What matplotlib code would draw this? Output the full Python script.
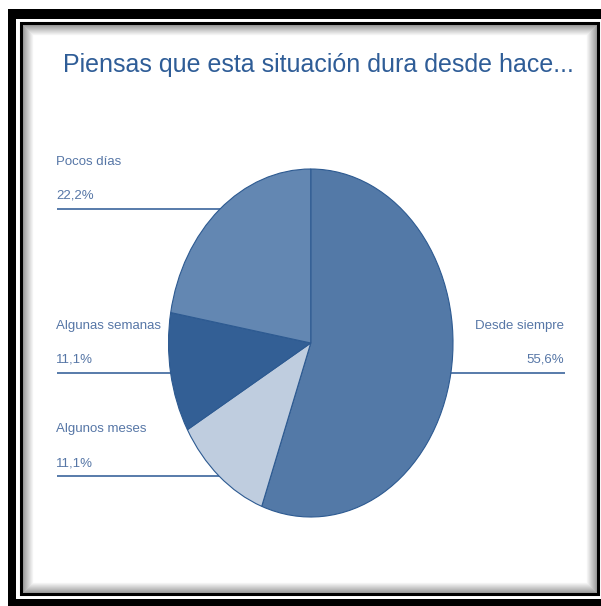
import numpy as np
import matplotlib
matplotlib.use('Agg')
from matplotlib import pyplot as plt
from matplotlib.patches import Rectangle

titulo = 'Piensas que esta situación dura desde hace...'
categorias = ['Desde siempre', 'Algunos meses', 'Algunas semanas', 'Pocos días']
porcentajes = [55.6, 11.1, 11.1, 22.2]
etiquetas = ['55,6%', '11,1%', '11,1%', '22,2%']
colores = ['#5379a7', '#bfcddf', '#335f95', '#6387b2']

fuente = ['Liberation Sans', 'DejaVu Sans']
azul_titulo = '#2f5d97'
azul_texto = '#5676a6'
azul_linea = '#4a71a4'

W, H = 601, 606
fig = plt.figure(figsize=(W / 100, H / 100), dpi=100)

# fondo en pixeles (origen arriba a la izquierda)
bg = fig.add_axes([0, 0, 1, 1], zorder=0)
bg.set_xlim(0, W)
bg.set_ylim(H, 0)
bg.axis('off')

bg.add_patch(Rectangle((8, 9), 700, 700, facecolor='black', edgecolor='none'))
bg.add_patch(Rectangle((16, 19), 700, 580, facecolor='white', edgecolor='none'))
x0, y0, x1, y1 = 20.5, 22.5, 597.5, 593.7
for k in range(12, 0, -1):
    g = 0.55 + 0.45 * k / 12
    bg.add_patch(Rectangle((x0 + k, y0 + k), x1 - x0 - 2 * k, y1 - y0 - 2 * k,
                           facecolor='white' if k == 12 else 'none',
                           edgecolor=(g, g, g), linewidth=0.9))
bg.add_patch(Rectangle((x0, y0), x1 - x0, y1 - y0, facecolor='none',
                       edgecolor='black', linewidth=2.2))

bg.text(318, 72, titulo, ha='center', va='baseline', fontsize=18,
        color=azul_titulo, family=fuente)

# pastel (elipse, como en la imagen original)
cx, cy, rx, ry = 310.75, 343, 142.25, 174
ax = fig.add_axes([(cx - rx) / W, (H - cy - ry) / H, 2 * rx / W, 2 * ry / H], zorder=1)
ax.pie(porcentajes, colors=colores, startangle=90, counterclock=False,
       wedgeprops=dict(edgecolor='#2d5a91', linewidth=0.8))
ax.set_aspect('auto')
ax.set_xlim(-1, 1)
ax.set_ylim(-1, 1)
ax.patch.set_visible(False)

# etiquetas con linea hasta el borde del pastel
pos_linea = {'Pocos días': 209, 'Algunas semanas': 373, 'Algunos meses': 476, 'Desde siempre': 373}
lado = {'Pocos días': 'izq', 'Algunas semanas': 'izq', 'Algunos meses': 'izq', 'Desde siempre': 'der'}

for cat, etq in zip(categorias, etiquetas):
    yl = pos_linea[cat]
    dx = rx * np.sqrt(1 - ((yl - cy) / ry) ** 2)
    if lado[cat] == 'izq':
        xa, xb, xt, ha = 57, cx - dx + 2, 56, 'left'
    else:
        xa, xb, xt, ha = cx + dx - 2, 565, 564, 'right'
    bg.plot([xa, xb], [yl, yl], color=azul_linea, linewidth=1.3, solid_capstyle='butt')
    bg.text(xt, yl - 44, cat, ha=ha, va='baseline', fontsize=9.5,
            color=azul_texto, family=fuente)
    bg.text(xt, yl - 10, etq, ha=ha, va='baseline', fontsize=9.5,
            color=azul_texto, family=fuente)

fig.savefig('out.png', dpi=100)
